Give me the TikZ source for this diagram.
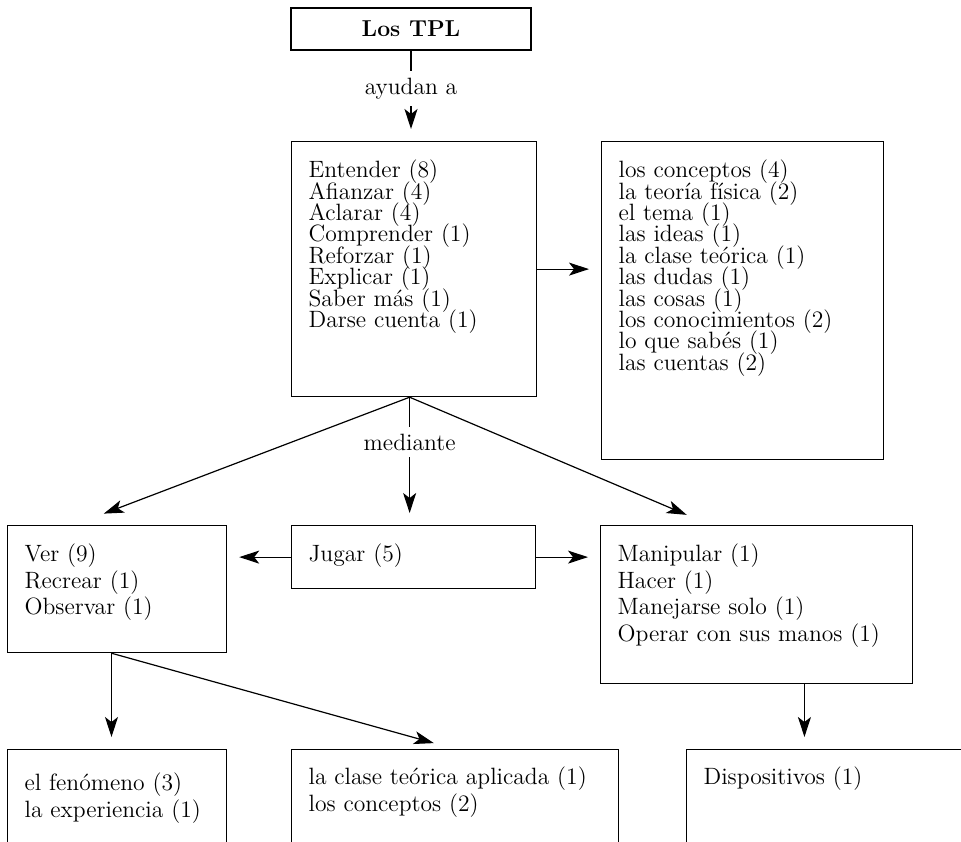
\documentclass[tikz,border=0pt]{standalone}
\usepackage{tikz}
\usetikzlibrary{arrows.meta}

\begin{document}
\begin{tikzpicture}[
  x=0.5pt, y=-0.5pt,
  box/.style={draw, line width=0.6pt, anchor=north west, align=left, inner xsep=8.5pt, inner ysep=0pt, text height=18pt},
  up/.style={box, font={\fontsize{11.8}{10.7}\selectfont\lineskiplimit=-20pt\relax}},
  low/.style={box, font={\fontsize{11.8}{13.3}\selectfont\lineskiplimit=-20pt\relax}},
  arr/.style={line width=0.6pt, -{Stealth[length=10pt,width=6.5pt,inset=2.5pt]}, shorten >=6pt},
  diag/.style={arr, shorten >=16pt},
  lbl/.style={fill=white, inner sep=3.5pt, font=\fontsize{11.8}{13}\selectfont}
]
\useasboundingbox (0,0) rectangle (961,841);
\clip (0,0) rectangle (961,841);

% Top of the map
\node[draw, line width=0.6pt, minimum width=120pt, minimum height=21pt, font=\fontsize{11.5}{13}\selectfont\bfseries] (tpl) at (411,29) {Los TPL};
\node[up, text width=105.5pt, text depth=109.5pt] (ent) at (291,141) {Entender (8)\\ Afianzar (4)\\ Aclarar (4)\\ Comprender (1)\\ Reforzar (1)\\ Explicar (1)\\ Saber más (1)\\ Darse cuenta (1)};
\node[up, text width=124pt, text depth=141pt] (obj) at (601,141) {los conceptos (4)\\ la teoría física (2)\\ el tema (1)\\ las ideas (1)\\ la clase teórica (1)\\ las dudas (1)\\ las cosas (1)\\ los conocimientos (2)\\ lo que sabés (1)\\ las cuentas (2)};

% Second row
\node[low, text width=92.5pt, text depth=45.5pt] (ver) at (7,525) {Ver (9)\\ Recrear (1)\\ Observar (1)};
\node[low, text width=105pt, text depth=13.5pt] (jug) at (291,525) {Jugar (5)};
\node[low, text width=139pt, text depth=61pt] (man) at (600,525) {Manipular (1)\\ Hacer (1)\\ Manejarse solo (1)\\ Operar con sus manos (1)};

% Bottom row
\node[low, text width=92.5pt, text height=20.5pt, text depth=45pt] (fen) at (7,749) {el fenómeno (3)\\ la experiencia (1)};
\node[low, text width=146.5pt, text height=17.5pt, text depth=48pt] (cla) at (291,749) {la clase teórica aplicada (1)\\ los conceptos (2)};
\node[low, text width=140pt, text height=17.5pt, text depth=48pt] (dis) at (686,749) {Dispositivos (1)};

% Connectors
\draw[arr] (tpl.south) -- node[lbl, pos=0.42]{ayudan a} (tpl.south |- ent.north);
\draw[arr] (ent.east) -- (ent.east -| obj.west);
\draw[arr] (ent.-92.5) -- node[lbl, pos=0.35]{mediante} (ent.-92.5 |- jug.north);
\draw[diag] (ent.-92.5) -- (ver.124);
\draw[diag, shorten >=13pt] (ent.-92.5) -- (man.120);
\draw[arr] (jug.west) -- (jug.west -| ver.east);
\draw[arr] (jug.east) -- (jug.east -| man.west);
\draw[arr] (ver.-95) -- (ver.-95 |- fen.north);
\draw[diag, shorten >=11pt] (ver.-95) -- (cla.north);
\draw[arr] (man.-59) -- (man.-59 |- dis.north);
\end{tikzpicture}
\end{document}
